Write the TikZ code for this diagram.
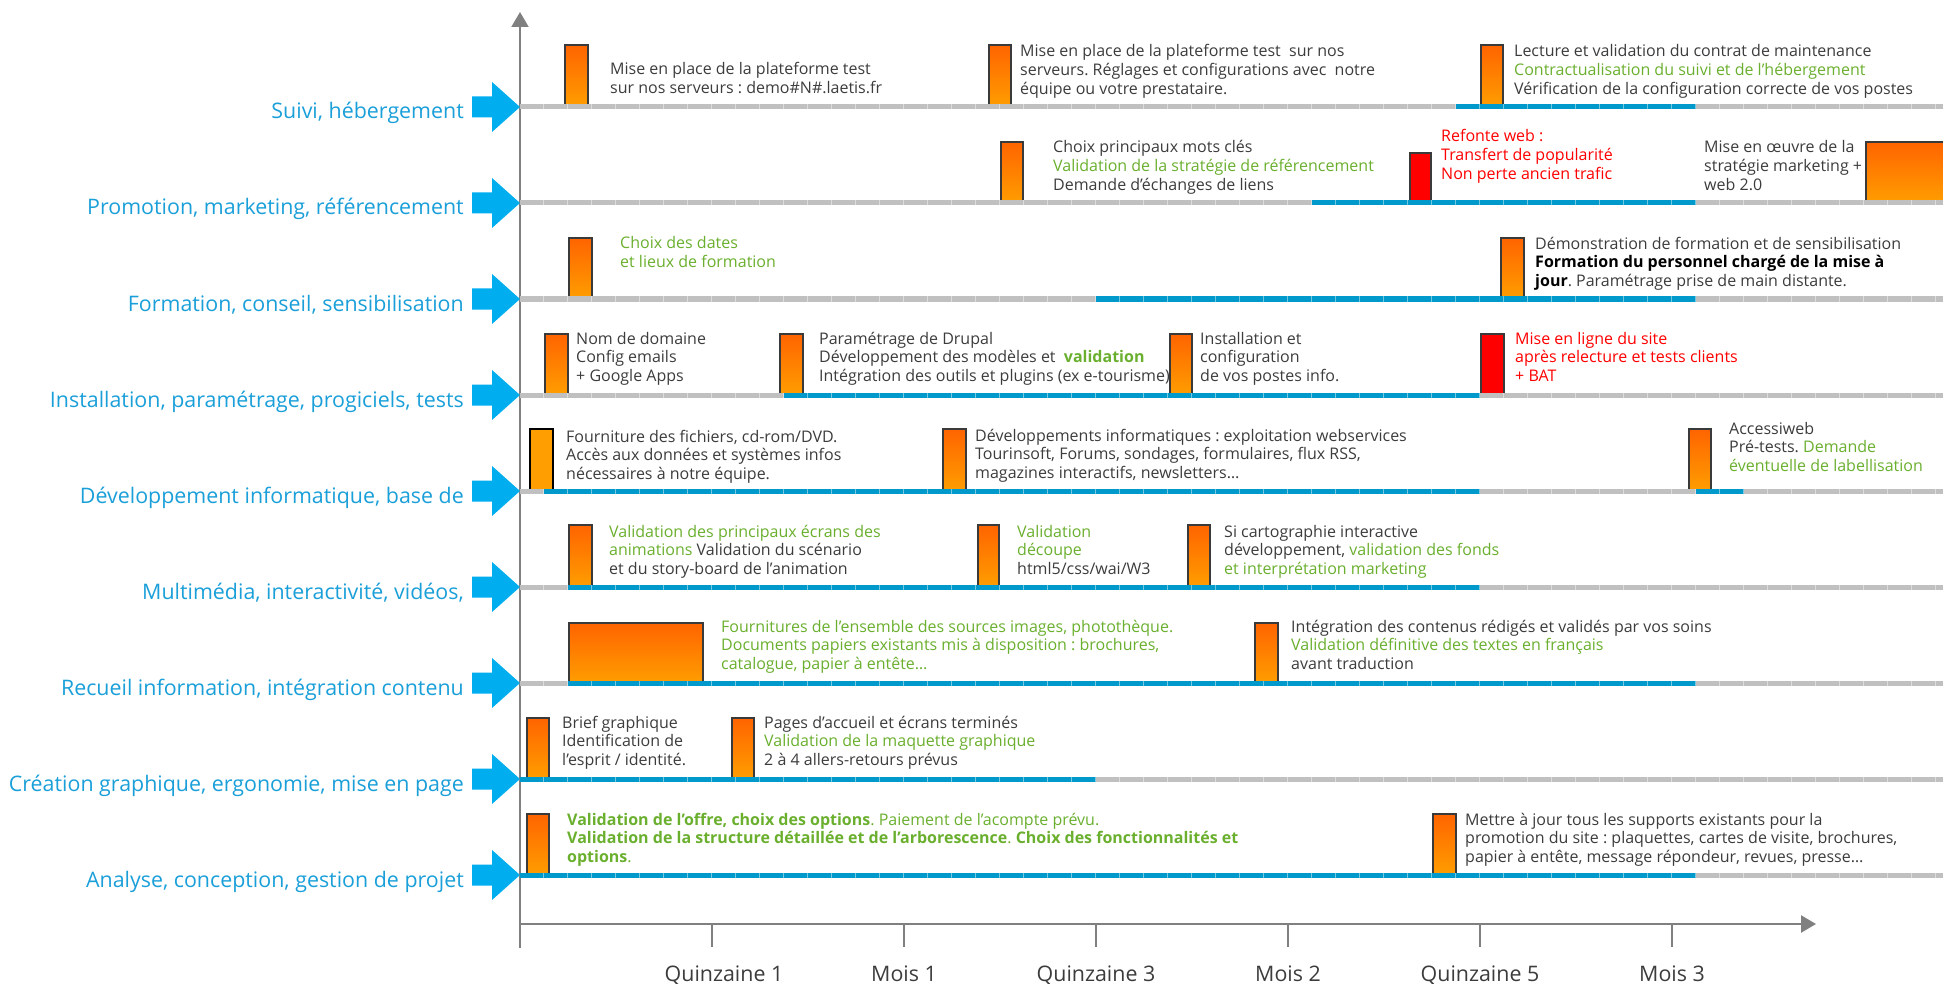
\documentclass[tikz,border=0pt]{standalone}
\usepackage{fontspec}
\setmainfont{Open Sans}
\usetikzlibrary{arrows.meta}
\frenchspacing
\definecolor{lblblue}{HTML}{1A9FD9}
\definecolor{arrowblue}{HTML}{00AEEF}
\definecolor{trkblue}{HTML}{0099CC}
\definecolor{trkgray}{HTML}{C0C0C0}
\definecolor{axgray}{HTML}{808080}
\definecolor{txtgray}{HTML}{3C3C3C}
\definecolor{grn}{HTML}{6AAF2E}
\definecolor{boxgray}{HTML}{3A3A3A}
\definecolor{ora1}{HTML}{FF6400}
\definecolor{ora2}{HTML}{FF9E00}
\definecolor{redms}{HTML}{FF0000}
\newcommand\trk[4]{%
  \draw[line width=5pt,#4!55!white] (#2,#1) -- (#3,#1);
  \draw[line width=5pt,#4,dash pattern=on 23pt off 1pt] (#2,#1) -- (#3,#1);}
\tikzset{
  lbl/.style={anchor=base east, text=lblblue, font=\fontsize{21.4}{24}\selectfont, inner sep=0pt},
  txt/.style={anchor=base west, align=left, text=txtgray, font=\fontsize{16}{18.7}\selectfont\frenchspacing, inner sep=0pt},
  ms/.style={draw=boxgray, line width=2.5pt, top color=ora1, bottom color=ora2},
  msred/.style={draw=boxgray, line width=2.5pt, fill=redms},
  msflat/.style={draw=black, line width=2.5pt, fill=ora2},
  axis/.style={draw=axgray, line width=2.5pt},
  tick/.style={draw=axgray, line width=1.5pt},
  ticklbl/.style={anchor=base, text=txtgray, font=\fontsize{21.4}{24}\selectfont, inner sep=0pt}
}
\begin{document}
\begin{tikzpicture}[x=1pt,y=-1pt]
\useasboundingbox (0,0) rectangle (1943,984);
% ---------- axes
\coordinate (vbot) at (520,948);
\coordinate (vtop) at (520,12);
\coordinate (hleft) at (520,924);
\coordinate (hright) at (1816,924);
\draw[axis, line width=2pt, -{Triangle[length=15pt,width=17pt]}] (vbot) -- (vtop);
\draw[axis, -{Triangle[length=15pt,width=17pt]}] (hleft) -- (hright);
\foreach \x in {712,904,1096,1288,1480,1672}{
  \draw[tick] (\x,924) -- (\x,947);
}
\node[ticklbl] (tk1) at (724,981) {Quinzaine 1};
\node[ticklbl] (tk2) at (904,981) {Mois 1};
\node[ticklbl] (tk3) at (1096,981) {Quinzaine 3};
\node[ticklbl] (tk4) at (1288,981) {Mois 2};
\node[ticklbl] (tk5) at (1480,981) {Quinzaine 5};
\node[ticklbl] (tk6) at (1672,981) {Mois 3};
% ---------- row arrows and labels
\foreach \y in {107,203,299,395,491,587,683,779,875}{
  \fill[arrowblue] (472,\y-10.5) -- (492,\y-10.5) -- (492,\y-25) -- (520,\y)
    -- (492,\y+25) -- (492,\y+10.5) -- (472,\y+10.5) -- cycle;
}
\node[lbl] (l1) at (464,119) {Suivi, hébergement};
\node[lbl] (l2) at (464,215) {Promotion, marketing, référencement};
\node[lbl] (l3) at (464,311) {Formation, conseil, sensibilisation};
\node[lbl] (l4) at (464,407) {Installation, paramétrage, progiciels, tests};
\node[lbl] (l5) at (464,503) {Développement informatique, base de};
\node[lbl] (l6) at (464,599) {Multimédia, interactivité, vidéos,};
\node[lbl] (l7) at (464,695) {Recueil information, intégration contenu};
\node[lbl] (l8) at (464,791) {Création graphique, ergonomie, mise en page};
\node[lbl] (l9) at (464,887) {Analyse, conception, gestion de projet};
% ---------- milestone boxes
% row 1
\path[ms] (565,45) rectangle (588,107);
\path[ms] (989,45) rectangle (1011,107);
\path[ms] (1481,45) rectangle (1503,107);
% row 2
\path[ms] (1001,142) rectangle (1023,203);
\path[msred] (1410,153) rectangle (1431,203);
\path[ms] (1866,142) rectangle (1960,203);
% row 3
\path[ms] (569,238) rectangle (592,299);
\path[ms] (1501,238) rectangle (1524,299);
% row 4
\path[ms] (545,334) rectangle (568,395);
\path[ms] (780,334) rectangle (803,395);
\path[ms] (1170,334) rectangle (1192,395);
\path[msred] (1481,334) rectangle (1504,395);
% row 5
\path[msflat] (530,429) rectangle (553,491);
\path[ms] (943,429) rectangle (966,491);
\path[ms] (1689,429) rectangle (1711,491);
% row 6
\path[ms] (569,525) rectangle (592,587);
\path[ms] (978,525) rectangle (999,587);
\path[ms] (1188,525) rectangle (1210,587);
% row 7
\path[ms] (569,623) rectangle (703,683);
\path[ms] (1255,623) rectangle (1278,683);
% row 8
\path[ms] (527,718) rectangle (549,779);
\path[ms] (732,718) rectangle (754,779);
% row 9
\path[ms] (527,814) rectangle (549,875);
\path[ms] (1433,814) rectangle (1456,875);
% ---------- tracks
\trk{107}{520}{1943}{trkgray}\trk{107}{1456}{1696}{trkblue}
\trk{203}{520}{1943}{trkgray}\trk{203}{1312}{1696}{trkblue}
\trk{299}{520}{1943}{trkgray}\trk{299}{1096}{1696}{trkblue}
\trk{395}{520}{1943}{trkgray}\trk{395}{784}{1480}{trkblue}
\trk{491}{520}{1943}{trkgray}\trk{491}{544}{1480}{trkblue}\trk{491}{1696}{1744}{trkblue}
\trk{587}{520}{1943}{trkgray}\trk{587}{568}{1480}{trkblue}
\trk{683}{520}{1943}{trkgray}\trk{683}{568}{1696}{trkblue}
\trk{779}{520}{1943}{trkgray}\trk{779}{520}{1096}{trkblue}
\trk{875}{520}{1943}{trkgray}\trk{875}{520}{1696}{trkblue}
% ---------- texts (node base = baseline of last line)
% row 1
\node[txt] (t1a) at (610,93.7) {Mise en place de la plateforme test\\sur nos serveurs : demo\#N\#.laetis.fr};
\node[txt] (t1b) at (1020,94.4) {Mise en place de la plateforme test\ \ sur nos\\serveurs. Réglages et configurations avec\ \ notre\\équipe ou votre prestataire.};
\node[txt] (t1c) at (1514,94.4) {Lecture et validation du contrat de maintenance\\{\color{grn}Contractualisation du suivi et de l’hébergement}\\Vérification de la configuration correcte de vos postes};
% row 2
\node[txt] (t2a) at (1053,190.4) {Choix principaux mots clés\\{\color{grn}Validation de la stratégie de référencement}\\Demande d’échanges de liens};
\node[txt, text=redms] (t2b) at (1441,179.4) {Refonte web :\\Transfert de popularité\\Non perte ancien trafic};
\node[txt] (t2c) at (1704,190.4) {Mise en œuvre de la\\stratégie marketing +\\web 2.0};
% row 3
\node[txt, text=grn] (t3a) at (620,267.7) {Choix des dates\\et lieux de formation};
\node[txt] (t3b) at (1535,286.4) {Démonstration de formation et de sensibilisation\\{\color{black}\bfseries Formation du personnel chargé de la mise à}\\{\color{black}\bfseries jour}. Paramétrage prise de main distante.};
% row 4
\node[txt] (t4a) at (576,381.4) {Nom de domaine\\Config emails\\+ Google Apps};
\node[txt] (t4b) at (819,381.4) {Paramétrage de Drupal\\Développement des modèles et\ \ {\color{grn}\bfseries validation}\\Intégration des outils et plugins (ex e-tourisme)};
\node[txt] (t4c) at (1200,381.4) {Installation et\\configuration\\de vos postes info.};
\node[txt, text=redms] (t4d) at (1515,381.4) {Mise en ligne du site\\après relecture et tests clients\\+ BAT};
% row 5
\node[txt] (t5a) at (566,479.4) {Fourniture des fichiers, cd-rom/DVD.\\Accès aux données et systèmes infos\\nécessaires à notre équipe.};
\node[txt] (t5b) at (975,478.4) {Développements informatiques : exploitation webservices\\Tourinsoft, Forums, sondages, formulaires, flux RSS,\\magazines interactifs, newsletters…};
\node[txt] (t5c) at (1729,471.4) {Accessiweb\\Pré-tests. {\color{grn}Demande}\\{\color{grn}éventuelle de labellisation}};
% row 6
\node[txt] (t6a) at (609,574.4) {{\color{grn}Validation des principaux écrans des}\\{\color{grn}animations} Validation du scénario\\et du story-board de l’animation};
\node[txt] (t6b) at (1017,574.4) {{\color{grn}Validation}\\{\color{grn}découpe}\\html5/css/wai/W3};
\node[txt] (t6c) at (1224,574.4) {Si cartographie interactive\\développement, {\color{grn}validation des fonds}\\{\color{grn}et interprétation marketing}};
% row 7
\node[txt, text=grn] (t7a) at (721,669.4) {Fournitures de l’ensemble des sources images, photothèque.\\Documents papiers existants mis à disposition : brochures,\\catalogue, papier à entête…};
\node[txt] (t7b) at (1291,669.4) {Intégration des contenus rédigés et validés par vos soins\\{\color{grn}Validation définitive des textes en français}\\avant traduction};
% row 8
\node[txt] (t8a) at (562,765.4) {Brief graphique\\Identification de\\l’esprit / identité.};
\node[txt] (t8b) at (764,765.4) {Pages d’accueil et écrans terminés\\{\color{grn}Validation de la maquette graphique}\\2 à 4 allers-retours prévus};
% row 9
\node[txt, text=grn] (t9a) at (567,862.4) {\textbf{Validation de l’offre, choix des options}. Paiement de l’acompte prévu.\\\textbf{Validation de la structure détaillée et de l’arborescence}. \textbf{Choix des fonctionnalités et}\\\textbf{options}.};
\node[txt] (t9b) at (1465,862.4) {Mettre à jour tous les supports existants pour la\\promotion du site : plaquettes, cartes de visite, brochures,\\papier à entête, message répondeur, revues, presse…};
\end{tikzpicture}
\end{document}
